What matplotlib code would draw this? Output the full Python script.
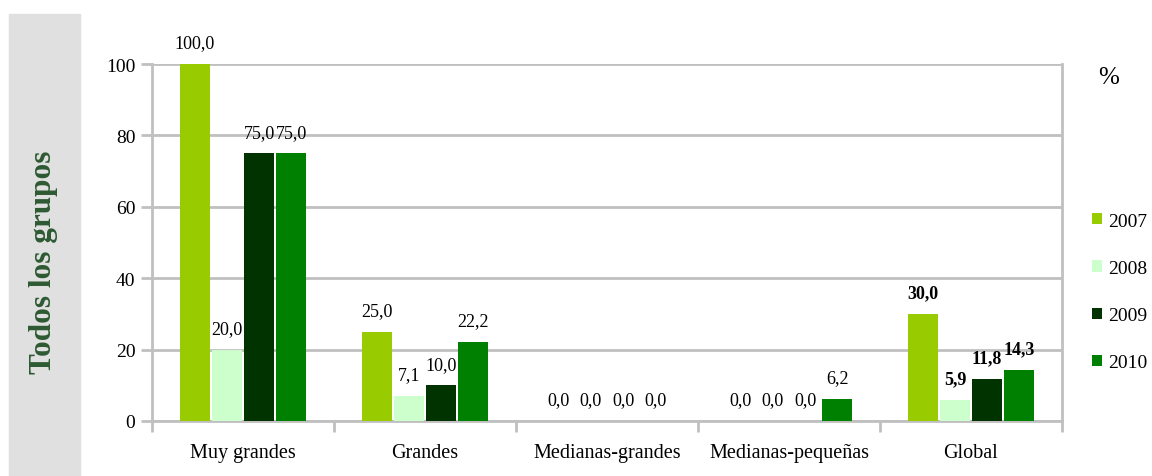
import matplotlib.pyplot as plt
import numpy as np
from matplotlib.patches import Rectangle

categories = ["Muy grandes", "Grandes", "Medianas-grandes", "Medianas-pequeñas", "Global"]
years = ["2007", "2008", "2009", "2010"]
v2007 = [100.0, 25.0, 0.0, 0.0, 30.0]
v2008 = [20.0, 7.1, 0.0, 0.0, 5.9]
v2009 = [75.0, 10.0, 0.0, 0.0, 11.8]
v2010 = [75.0, 22.2, 0.0, 6.2, 14.3]
series = [v2007, v2008, v2009, v2010]
colors = ["#99cc00", "#ccffcc", "#003300", "#008000"]
yticks = [0, 20, 40, 60, 80, 100]

plt.rcParams["font.family"] = ["Liberation Serif", "DejaVu Serif"]

fig = plt.figure(figsize=(11.52, 4.77), dpi=100)

# gray side panel with the group title
fig.patches.append(Rectangle((9 / 1152, 0), 71 / 1152, 1 - 15 / 477,
                             transform=fig.transFigure, color="#e0e0e0", zorder=0))
fig.text(44 / 1152, 1 - 262 / 477, "Todos los grupos", rotation=90, ha="center", va="center",
         fontsize=22.5, fontweight="bold", color="#2d5a32")

ax = fig.add_axes([152 / 1152, 1 - 422 / 477, 910 / 1152, 357 / 477])

x = np.arange(len(categories))
step = 0.176
width = 0.165
for k, (vals, col, yr) in enumerate(zip(series, colors, years)):
    pos = x + (k - 1.5) * step
    ax.bar(pos, vals, width, color=col, label=yr, zorder=3)
    for i, (p, v) in enumerate(zip(pos, vals)):
        bold = categories[i] == "Global"
        ax.annotate(f"{v:.1f}".replace(".", ","), (p, v), xytext=(0, 9),
                    textcoords="offset points", ha="center", va="bottom",
                    fontsize=13, fontweight="bold" if bold else "normal",
                    color="black", zorder=4)

ax.set_xlim(-0.5, len(categories) - 0.5)
ax.set_ylim(0, 100)
ax.set_yticks(yticks)
ax.set_yticklabels([str(t) for t in yticks], fontsize=14)
ax.set_xticks(np.arange(len(categories) + 1) - 0.5, minor=False)
ax.set_xticklabels([])
ax.set_xticks(x, minor=True)
ax.set_xticklabels(categories, minor=True, fontsize=14.5)
ax.tick_params(axis="x", which="minor", length=0, pad=16)
ax.tick_params(axis="x", which="major", length=8, width=2, color="#c0c0c0", direction="out")
ax.tick_params(axis="y", length=8, width=2, color="#c0c0c0", direction="out", pad=4)
ax.grid(axis="y", color="#c0c0c0", linewidth=2, zorder=0)
for s in ["left", "right", "bottom"]:
    ax.spines[s].set_color("#c0c0c0")
    ax.spines[s].set_linewidth(2)
ax.spines["top"].set_visible(False)
ax.set_axisbelow(True)

fig.text(1098 / 1152, 1 - 78 / 477, "%", fontsize=18, ha="left", va="center")
ax.legend(loc="center left", bbox_to_anchor=(1092 / 1152, 1 - 293 / 477),
          bbox_transform=fig.transFigure, frameon=False, fontsize=14,
          borderaxespad=0, borderpad=0,
          handlelength=0.5, handleheight=0.5, handletextpad=0.35, labelspacing=1.55)

fig.savefig("out.png", dpi=100)
